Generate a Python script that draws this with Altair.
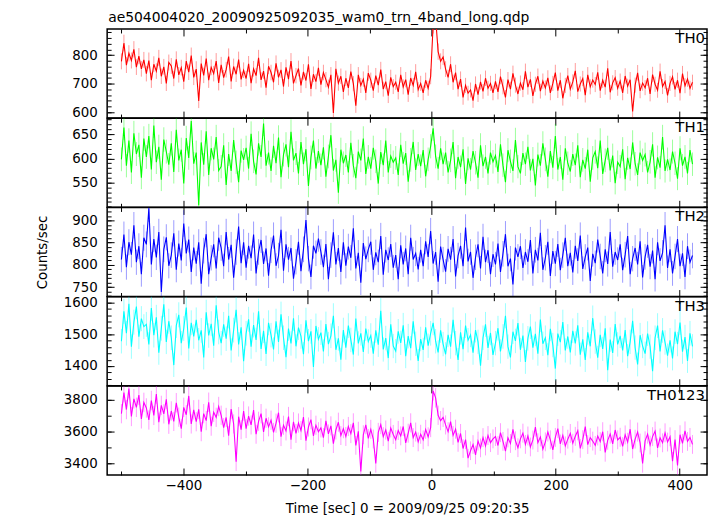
import altair as alt
import pandas as pd

# ---------------- data (1 value every ~4 s) ----------------
T0 = -500
DT = 4.02

th0 = [778, 842, 765, 806, 781, 820, 758, 796, 752, 783,
       735, 781, 712, 768, 744, 790, 726, 759, 701, 774,
       762, 718, 785, 731, 756, 707, 779, 740, 798, 722,
       751, 640, 770, 729, 788, 712, 757, 735, 779, 703,
       766, 721, 749, 795, 708, 760, 733, 784, 715, 747,
       718, 769, 702, 752, 728, 790, 713, 744, 686, 761,
       739, 705, 771, 722, 748, 690, 757, 716, 779, 701,
       728, 753, 694, 741, 711, 768, 682, 733, 707, 755,
       697, 739, 714, 688, 731, 598, 752, 702, 726, 671,
       719, 685, 742, 700, 623, 731, 694, 716, 668, 737,
       712, 676, 728, 695, 749, 681, 707, 658, 722, 690,
       705, 671, 731, 689, 714, 662, 720, 694, 741, 679,
       701, 668, 712, 684, 725, 905, 930, 812, 778, 793,
       751, 722, 768, 705, 739, 681, 716, 652, 694, 667,
       678, 641, 699, 662, 706, 673, 719, 684, 701, 668,
       708, 671, 725, 689, 652, 714, 681, 736, 695, 664,
       702, 679, 743, 688, 715, 657, 698, 726, 674, 709,
       685, 720, 668, 701, 739, 676, 712, 649, 694, 728,
       681, 706, 745, 672, 699, 718, 660, 731, 689, 713,
       697, 740, 676, 712, 688, 754, 670, 703, 721, 684,
       709, 668, 727, 691, 714, 603, 695, 738, 675, 702,
       686, 719, 664, 732, 698, 677, 743, 690, 708, 659,
       701, 724, 680, 712, 667, 735, 693, 716, 684, 705]

th1 = [598, 664, 585, 637, 571, 652, 609, 628, 560, 641,
       603, 646, 577, 668, 592, 624, 556, 639, 614, 587,
       631, 572, 659, 596, 618, 548, 642, 601, 677, 589,
       612, 503, 633, 587, 656, 566, 621, 598, 644, 575,
       583, 627, 545, 609, 574, 638, 592, 551, 616, 597,
       622, 579, 651, 594, 567, 631, 603, 672, 585, 612,
       574, 626, 590, 643, 561, 608, 629, 582, 655, 596,
       611, 569, 634, 588, 619, 543, 602, 637, 579, 615,
       586, 623, 562, 604, 648, 575, 597, 529, 618, 590,
       607, 571, 632, 585, 559, 614, 596, 641, 568, 603,
       579, 622, 594, 548, 613, 586, 637, 571, 605, 592,
       601, 566, 628, 589, 611, 552, 597, 634, 576, 609,
       584, 617, 563, 598, 625, 662, 604, 579, 621, 588,
       612, 571, 596, 634, 559, 603, 582, 619, 547, 600,
       577, 615, 591, 560, 627, 584, 603, 569, 612, 593,
       606, 572, 629, 586, 551, 617, 594, 574, 638, 583,
       569, 611, 588, 624, 575, 599, 544, 608, 585, 631,
       598, 562, 615, 581, 646, 577, 603, 556, 621, 590,
       573, 609, 586, 627, 561, 597, 579, 618, 552, 601,
       614, 580, 637, 568, 596, 622, 575, 606, 549, 592,
       583, 619, 557, 601, 578, 633, 589, 566, 612, 596,
       608, 571, 593, 629, 560, 602, 581, 644, 574, 598,
       576, 614, 590, 558, 621, 585, 603, 569, 617, 588]

th2 = [812, 868, 795, 851, 823, 889, 806, 842, 779, 861,
       846, 927, 801, 858, 817, 874, 739, 835, 862, 798,
       822, 871, 789, 848, 810, 893, 826, 857, 784, 839,
       803, 851, 758, 832, 869, 779, 816, 846, 792, 861,
       838, 797, 874, 812, 845, 771, 829, 886, 804, 851,
       794, 843, 815, 868, 781, 829, 856, 802, 837, 776,
       833, 866, 798, 821, 879, 787, 846, 812, 838, 769,
       807, 852, 786, 835, 901, 814, 773, 843, 826, 859,
       829, 795, 847, 768, 822, 873, 801, 838, 784, 851,
       798, 841, 816, 882, 792, 827, 760, 849, 813, 835,
       852, 789, 828, 806, 865, 778, 834, 811, 847, 794,
       822, 768, 844, 801, 837, 779, 861, 812, 826, 790,
       834, 797, 853, 818, 876, 803, 829, 762, 841, 812,
       785, 836, 812, 858, 774, 821, 843, 797, 884, 808,
       829, 771, 817, 846, 792, 863, 806, 833, 779, 824,
       801, 848, 784, 825, 869, 797, 814, 756, 839, 818,
       842, 793, 829, 807, 856, 781, 834, 810, 872, 789,
       816, 852, 775, 831, 803, 847, 788, 822, 861, 797,
       827, 783, 843, 809, 866, 791, 818, 839, 764, 825,
       804, 857, 819, 781, 835, 802, 874, 796, 829, 811,
       846, 788, 823, 865, 779, 814, 838, 801, 853, 772,
       818, 845, 796, 832, 768, 851, 809, 827, 889, 793,
       835, 781, 819, 858, 797, 826, 773, 842, 806, 821]

th3 = [1478, 1572, 1503, 1596, 1461, 1538, 1587, 1492, 1549, 1524,
       1531, 1468, 1582, 1497, 1553, 1442, 1519, 1594, 1476, 1541,
       1489, 1403, 1527, 1561, 1472, 1518, 1584, 1455, 1536, 1493,
       1545, 1481, 1512, 1427, 1569, 1496, 1533, 1464, 1591, 1507,
       1472, 1531, 1486, 1558, 1449, 1513, 1577, 1468, 1522, 1415,
       1503, 1547, 1461, 1529, 1482, 1572, 1454, 1511, 1438, 1536,
       1497, 1452, 1541, 1476, 1563, 1489, 1428, 1518, 1471, 1550,
       1462, 1521, 1493, 1437, 1544, 1478, 1509, 1397, 1526, 1484,
       1505, 1446, 1532, 1469, 1495, 1558, 1451, 1487, 1420, 1513,
       1458, 1527, 1482, 1436, 1549, 1471, 1503, 1444, 1518, 1477,
       1496, 1439, 1512, 1467, 1574, 1452, 1488, 1425, 1531, 1463,
       1447, 1509, 1473, 1528, 1431, 1494, 1456, 1541, 1470, 1416,
       1485, 1451, 1522, 1464, 1503, 1536, 1478, 1443, 1512, 1469,
       1437, 1498, 1461, 1545, 1472, 1419, 1506, 1453, 1527, 1481,
       1498, 1442, 1513, 1476, 1401, 1489, 1531, 1457, 1504, 1435,
       1472, 1519, 1446, 1493, 1558, 1461, 1427, 1508, 1479, 1535,
       1451, 1496, 1413, 1487, 1524, 1458, 1501, 1439, 1546, 1470,
       1489, 1434, 1517, 1466, 1392, 1502, 1475, 1538, 1449, 1493,
       1443, 1511, 1471, 1528, 1436, 1484, 1419, 1506, 1462, 1551,
       1477, 1426, 1498, 1454, 1519, 1387, 1483, 1441, 1532, 1468,
       1495, 1449, 1513, 1431, 1476, 1542, 1458, 1405, 1497, 1463,
       1439, 1502, 1461, 1384, 1489, 1527, 1446, 1512, 1474, 1433,
       1481, 1424, 1508, 1469, 1537, 1445, 1491, 1416, 1503, 1462]

th0123 = [3712, 3845, 3738, 3871, 3694, 3806, 3752, 3829, 3679, 3783,
          3748, 3672, 3795, 3701, 3836, 3658, 3764, 3711, 3802, 3645,
          3729, 3663, 3781, 3690, 3618, 3752, 3705, 3824, 3647, 3736,
          3661, 3739, 3598, 3712, 3668, 3784, 3633, 3721, 3689, 3757,
          3702, 3624, 3688, 3573, 3741, 3647, 3409, 3693, 3611, 3729,
          3618, 3697, 3641, 3735, 3582, 3664, 3712, 3597, 3683, 3629,
          3671, 3594, 3652, 3718, 3567, 3639, 3603, 3694, 3548, 3661,
          3587, 3653, 3606, 3691, 3541, 3628, 3674, 3572, 3639, 3598,
          3622, 3561, 3667, 3584, 3635, 3523, 3609, 3658, 3574, 3617,
          3568, 3631, 3586, 3654, 3512, 3601, 3347, 3579, 3642, 3556,
          3613, 3552, 3398, 3594, 3643, 3567, 3609, 3538, 3622, 3581,
          3548, 3606, 3572, 3631, 3527, 3589, 3654, 3561, 3596, 3534,
          3582, 3547, 3613, 3566, 3624, 3856, 3812, 3702, 3668, 3689,
          3641, 3598, 3662, 3575, 3614, 3531, 3587, 3492, 3548, 3431,
          3478, 3517, 3452, 3539, 3496, 3561, 3508, 3574, 3529, 3553,
          3568, 3511, 3592, 3537, 3476, 3559, 3524, 3613, 3541, 3497,
          3553, 3589, 3518, 3571, 3502, 3546, 3627, 3529, 3565, 3488,
          3534, 3596, 3547, 3483, 3562, 3618, 3521, 3575, 3509, 3551,
          3587, 3526, 3569, 3604, 3493, 3548, 3631, 3517, 3561, 3539,
          3512, 3571, 3536, 3598, 3468, 3544, 3583, 3521, 3609, 3547,
          3563, 3505, 3578, 3532, 3614, 3489, 3551, 3596, 3527, 3398,
          3541, 3583, 3514, 3567, 3602, 3496, 3559, 3528, 3591, 3533,
          3566, 3412, 3548, 3385, 3579, 3524, 3603, 3537, 3562, 3518]

band_names = ["TH0", "TH1", "TH2", "TH3", "TH0123"]
band_colors = ["#ff0000", "#00ff00", "#0000ff", "#00ffff", "#ff00ff"]
y_domains = [[580, 891], [499, 683], [729, 929], [1338, 1618], [3325, 3887]]
y_major = [[600, 700, 800], [550, 600, 650], [750, 800, 850, 900],
           [1400, 1500, 1600], [3400, 3600, 3800]]
y_minor = [list(range(580, 891, 20)), list(range(500, 683, 10)),
           list(range(730, 929, 10)), list(range(1340, 1618, 20)),
           list(range(3400, 3887, 100))]
x_major = [-400, -200, 0, 200, 400]
x_minor = [-500, -300, -100, 100, 300]

TITLE = "ae504004020_20090925092035_wam0_trn_4band_long.qdp"
XTITLE = "Time [sec] 0 = 2009/09/25 09:20:35"
YTITLE = "Counts/sec"

FONT = "DejaVu Sans"
FS = 13.5
W = 605
H = 89.8
XDOM = [-523, 444]


def tick_axis(orient, values, size):
    return alt.Axis(orient=orient, values=values, labels=False, domain=False,
                    grid=False, ticks=True, tickSize=size, offset=-size,
                    tickColor="black", tickWidth=1, title=None,
                    minExtent=0, maxExtent=0)


def panel(i, vals):
    df = pd.DataFrame({"t": [T0 + DT * k for k in range(len(vals))], "rate": vals})
    xs = alt.Scale(domain=XDOM, nice=False, zero=False)
    ys = alt.Scale(domain=y_domains[i], nice=False, zero=False)
    color = band_colors[i]
    bottom = i == len(band_names) - 1

    err = alt.Chart(df).transform_calculate(
        lo="datum.rate - sqrt(datum.rate)", hi="datum.rate + sqrt(datum.rate)"
    ).mark_rule(color=color, opacity=0.4, strokeWidth=1, clip=True).encode(
        x=alt.X("t:Q", scale=xs, axis=None),
        y=alt.Y("lo:Q", scale=ys, axis=None),
        y2="hi:Q",
    )

    yaxis_kw = dict(orient="left", values=y_major[i], ticks=False, tickSize=0,
                    domain=False, grid=False, labelPadding=10, labelFont=FONT,
                    labelFontSize=FS, labelColor="black", labelFlush=False,
                    format="d", minExtent=0)
    if i == 2:
        yaxis_kw.update(title=YTITLE, titleFont=FONT, titleFontSize=FS,
                        titleFontWeight="normal", titleColor="black", titlePadding=22)
    else:
        yaxis_kw.update(title=None)

    if bottom:
        xaxis = alt.Axis(orient="bottom", values=x_major, ticks=False, tickSize=0,
                         domain=False, grid=False, labelPadding=4, labelFont=FONT,
                         labelFontSize=FS, labelColor="black", labelFlush=False,
                         format="d", minExtent=0,
                         title=XTITLE, titleFont=FONT, titleFontSize=FS,
                         titleFontWeight="normal", titleColor="black", titlePadding=9)
        xenc = alt.X("t:Q", scale=xs, axis=xaxis)
    else:
        xenc = alt.X("t:Q", scale=xs, axis=None)

    line = alt.Chart(df).mark_line(color=color, strokeWidth=1.1, clip=True).encode(
        x=xenc, y=alt.Y("rate:Q", scale=ys, axis=alt.Axis(**yaxis_kw))
    )

    def ticks(xo, yo, xv, yv, size):
        return alt.Chart(df).mark_point(opacity=0).encode(
            x=alt.X("t:Q", scale=xs, axis=tick_axis(xo, xv, size)),
            y=alt.Y("rate:Q", scale=ys, axis=tick_axis(yo, yv, size)),
        )

    lab = alt.Chart(pd.DataFrame({"name": [band_names[i]]})).mark_text(
        align="right", baseline="top", font=FONT, fontSize=15, color="black"
    ).encode(text="name:N", x=alt.value(W - 2), y=alt.value(2))

    layers = [
        err, line,
        ticks("bottom", "left", x_major, y_major[i], 7),
        ticks("bottom", "left", x_minor, y_minor[i], 4),
        ticks("top", "right", x_major, y_major[i], 7),
        ticks("top", "right", x_minor, y_minor[i], 4),
        lab,
    ]
    if i == 0:
        layers.append(
            alt.Chart(pd.DataFrame({"title": [TITLE]})).mark_text(
                align="left", baseline="alphabetic", font=FONT, fontSize=14,
                color="black"
            ).encode(text="title:N", x=alt.value(1), y=alt.value(-7))
        )

    return alt.layer(*layers).resolve_axis(
        x="independent", y="independent").properties(width=W, height=H)


series = [th0, th1, th2, th3, th0123]
chart = alt.vconcat(*[panel(i, s) for i, s in enumerate(series)], spacing=0,
                    bounds="flush").properties(
    padding={"left": 27, "top": 0, "right": 0, "bottom": 0}
).configure_view(stroke="black", strokeWidth=1.5)

chart.save("out.html", embed_options={"renderer": "svg", "actions": False})
